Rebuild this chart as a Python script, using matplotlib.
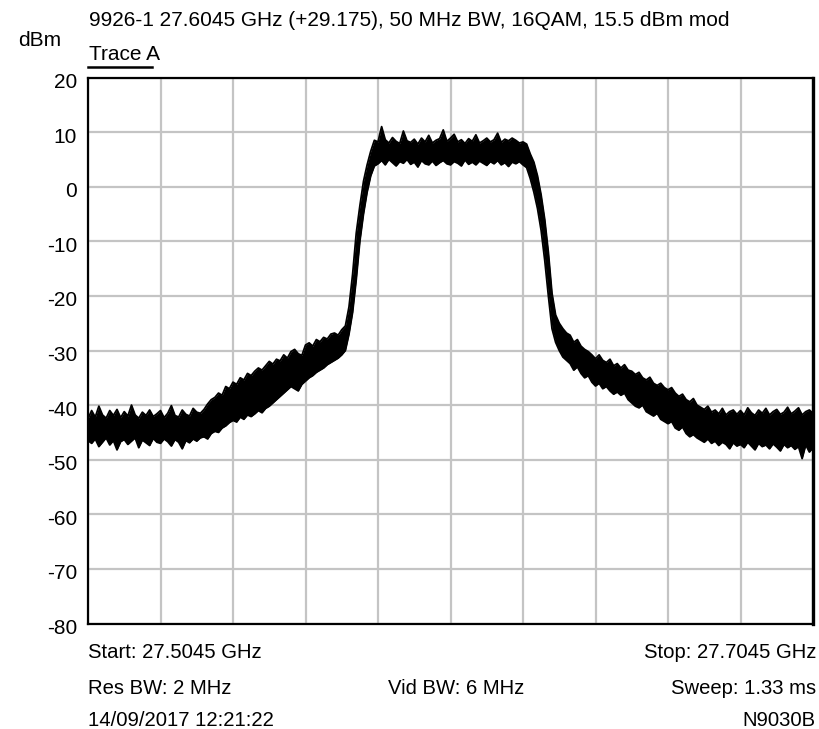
import matplotlib
matplotlib.use('agg')
import matplotlib.pyplot as plt
import matplotlib.transforms as mtransforms
import numpy as np

# sweep settings
f_start = 27.5045   # GHz
f_stop = 27.7045    # GHz
ref_top = 20
ref_bottom = -80

# trace A, peak (upper) and pit (lower) of the noisy trace, one reading per MHz (dBm)
trace_hi = [
    -42.5, -41.0, -42.2, -40.2, -41.8, -42.4, -41.0, -41.9, -40.8, -42.3,
    -41.2, -42.0, -40.0, -41.8, -42.4, -41.3, -41.9, -40.9, -42.1, -41.6,
    -41.0, -42.3, -41.5, -40.1, -41.9, -42.2, -40.9, -41.7, -42.0, -40.6,
    -41.3, -41.5, -40.8, -39.8, -39.0, -38.6, -37.8, -38.2, -36.6, -37.0,
    -35.8, -36.2, -35.0, -35.4, -34.2, -34.6, -33.8, -33.2, -33.6, -32.8,
    -32.0, -32.5, -31.6, -31.9, -30.8, -31.4, -30.2, -29.8, -30.6, -30.9,
    -29.0, -28.6, -29.2, -28.0, -28.4, -27.6, -27.9, -27.0, -26.8, -27.2,
    -26.2, -25.5, -22.0, -16.0, -8.5, -3.5, 1.0, 4.0, 6.5, 8.5,
    8.2, 11.0, 8.6, 8.0, 9.0, 8.3, 7.9, 10.2, 8.4, 8.1,
    8.7, 7.8, 8.9, 8.2, 9.4, 8.0, 8.5, 8.8, 10.4, 8.3,
    8.9, 9.6, 8.2, 8.6, 7.9, 8.8, 8.3, 9.5, 8.0, 8.4,
    8.9, 8.2, 8.6, 9.8, 8.1, 8.7, 8.4, 8.9, 8.5, 8.0,
    8.2, 7.8, 6.0, 4.5, 2.0, -1.5, -6.0, -12.0, -19.5, -23.5,
    -25.0, -26.0, -26.8, -27.2, -28.5, -28.0, -29.2, -29.8, -30.2, -30.8,
    -31.5, -30.8, -31.8, -32.2, -31.6, -32.8, -32.4, -33.2, -32.6, -33.6,
    -33.8, -34.4, -34.0, -35.0, -35.4, -34.9, -36.0, -36.4, -36.0, -36.8,
    -37.2, -36.8, -37.8, -38.4, -38.0, -39.0, -39.4, -38.8, -40.0, -40.4,
    -40.8, -40.2, -41.3, -40.9, -41.6, -40.6, -41.8, -41.2, -40.9, -41.7,
    -41.0, -41.8, -40.5, -41.4, -41.9, -40.9, -41.5, -40.6, -41.8, -41.2,
    -40.8, -41.7, -41.3, -40.4, -41.6, -41.1, -40.5, -41.8, -41.2, -40.9,
    -41.5,
]
trace_lo = [
    -46.5, -47.0, -46.2, -47.6, -46.8, -46.0, -47.3, -46.5, -48.2, -46.7,
    -46.3, -47.2, -46.6, -46.0, -47.8, -46.4, -46.9, -47.4, -46.1, -46.8,
    -47.0, -46.2, -46.7, -47.5, -46.3, -46.8, -48.0, -46.5, -46.9, -46.2,
    -46.6, -46.0, -45.8, -46.2, -45.2, -44.8, -45.0, -44.2, -43.8, -43.2,
    -42.8, -43.1, -42.2, -42.6, -41.8, -42.1, -41.6, -41.0, -41.4, -40.6,
    -40.2, -39.6, -39.0, -38.4, -37.8, -37.2, -36.6, -37.0, -37.4, -36.2,
    -35.6, -35.0, -34.6, -34.0, -33.6, -33.2, -32.6, -32.2, -31.8, -31.4,
    -30.8, -30.0, -27.0, -23.0, -17.0, -10.0, -5.0, -1.0, 2.0, 3.8,
    4.2, 4.8, 4.0, 5.0, 4.4, 3.8, 4.6, 4.3, 5.0, 4.1,
    4.5, 3.6, 4.8, 4.2, 4.0, 4.7, 3.9, 4.4, 4.8, 4.2,
    4.0, 4.6, 4.3, 3.8, 4.9, 4.1, 4.5, 4.0, 4.7, 4.3,
    3.9, 4.6, 4.2, 4.8, 4.0, 4.4, 3.7, 4.5, 4.2, 4.6,
    4.0, 3.5, 1.5, -1.0, -4.0, -8.0, -13.5, -20.0, -26.0, -28.5,
    -30.0, -31.2, -31.8, -32.4, -33.6, -33.0, -34.2, -35.0, -34.6, -35.8,
    -36.5, -36.0, -37.0, -36.6, -37.4, -38.0, -37.6, -38.2, -37.8, -39.0,
    -39.6, -40.2, -40.5, -40.0, -41.2, -41.6, -42.0, -41.5, -42.6, -43.0,
    -43.4, -43.0, -44.2, -44.6, -44.0, -45.2, -45.8, -45.4, -46.0, -46.4,
    -46.8, -46.2, -47.0, -46.6, -47.4, -46.8, -47.2, -48.0, -46.9, -47.5,
    -47.2, -47.8, -46.8, -47.5, -48.2, -47.0, -47.6, -47.3, -48.0, -47.1,
    -47.7, -48.4, -47.2, -47.8, -47.4, -48.1, -47.6, -49.8, -47.3, -48.6,
    -47.8,
]

title = '9926-1 27.6045 GHz (+29.175), 50 MHz BW, 16QAM, 15.5 dBm mod'
y_ticks = [20, 10, 0, -10, -20, -30, -40, -50, -60, -70, -80]
footer_left = ['Start: 27.5045 GHz', 'Res BW: 2 MHz', '14/09/2017 12:21:22']
footer_mid = ['', 'Vid BW: 6 MHz', '']
footer_right = ['Stop: 27.7045 GHz', 'Sweep: 1.33 ms', 'N9030B']

plt.rcParams['font.family'] = ['Liberation Sans', 'DejaVu Sans']
fs = 15
fs_foot = 14.6

freqs = np.linspace(f_start, f_stop, len(trace_hi))

fig = plt.figure(figsize=(8.19, 7.29), dpi=100)
ax = fig.add_axes([88/819, 1-623.5/729, 725/819, 546/729])
ax.fill_between(freqs, trace_lo, trace_hi, color='black', lw=0)
ax.plot(freqs, trace_hi, color='black', lw=1.3)
ax.plot(freqs, trace_lo, color='black', lw=1.3)

ax.set_xlim(f_start, f_stop)
ax.set_ylim(ref_bottom, ref_top)
ax.set_xticks(np.linspace(f_start, f_stop, 11))
ax.set_yticks(y_ticks)
ax.set_yticklabels([str(t) for t in y_ticks], fontsize=fs)
ax.tick_params(axis='x', length=0, labelbottom=False)
ax.tick_params(axis='y', length=0, pad=8)
# labels sit slightly below their grid lines on the analyzer printout
shift = mtransforms.ScaledTranslation(0, -3/100, fig.dpi_scale_trans)
for lbl in ax.get_yticklabels():
    lbl.set_transform(lbl.get_transform() + shift)
ax.grid(True, color='#c4c4c4', lw=1.6)
ax.set_axisbelow(True)
for s in ax.spines.values():
    s.set_color('black')
    s.set_linewidth(1.6)
ax.spines['right'].set_linewidth(2.4)

# header texts
fig.text(89/819, 1-20/729, title, fontsize=fs, ha='left', va='center')
fig.text(18/819, 1-40/729, 'dBm', fontsize=fs, ha='left', va='center')
fig.text(89/819, 1-54/729, 'Trace A', fontsize=fs, ha='left', va='center')
fig.add_artist(plt.Line2D([88/819, 152/819], [1-66.5/729, 1-66.5/729], color='black', lw=1.8))

# footer texts
rows_y = [653, 688, 720]
for i, y in enumerate(rows_y):
    fig.text(88/819, 1-y/729, footer_left[i], fontsize=fs_foot, ha='left', va='center')
    fig.text(456/819, 1-y/729, footer_mid[i], fontsize=fs_foot, ha='center', va='center')
    fig.text(816/819, 1-y/729, footer_right[i], fontsize=fs_foot, ha='right', va='center')

plt.savefig('out.png', dpi=100)
plt.close('all')
